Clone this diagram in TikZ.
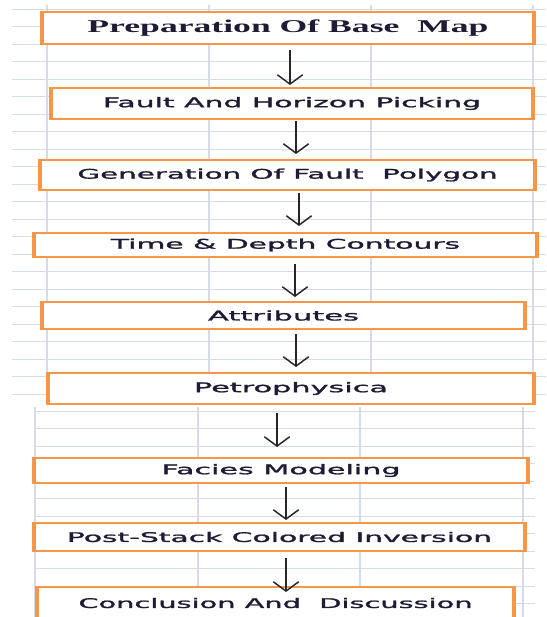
\documentclass[tikz,border=0pt]{standalone}
\usepackage{fontspec}
\usepackage{graphicx}
\usetikzlibrary{arrows.meta}
\newfontfamily\boxsans[FakeBold=1.2]{DejaVu Sans}
\newfontfamily\boxserif{Liberation Serif}
\definecolor{boxorange}{RGB}{247,150,70}
\definecolor{gridblue}{RGB}{214,219,233}
\definecolor{inkdark}{RGB}{28,28,52}
\newcommand{\px}{0.75pt}
\newcommand{\widelabel}[2]{\resizebox{#1}{\height}{#2}}

\tikzset{
  boxside/.style={draw=boxorange, line width=3pt},
  stepbox/.style={draw=boxorange, line width=1.5pt, fill=white, inner sep=0pt,
    text=inkdark, font=\boxsans\fontsize{10}{12}\selectfont,
    append after command={(\tikzlastnode.north west) edge[boxside] (\tikzlastnode.south west)
      (\tikzlastnode.north east) edge[boxside] (\tikzlastnode.south east)}},
  flowarrow/.style={-{Straight Barb[length=7pt,width=19pt]}, line width=1.1pt, black!85},
  gridline/.style={gridblue, line width=0.6pt},
  gridpost/.style={gridblue, line width=1.6pt},
}

\begin{document}
\begin{tikzpicture}[x=0.75pt, y=-0.75pt]
      \useasboundingbox (0,0) rectangle (546,617);
      \clip (0,0) rectangle (546,617);
      \fill[white] (0,0) rectangle (546,617);
      % sheet grid, upper part
      \foreach \gy in {0,...,22}
        \draw[gridline] (12,{9+17.5*\gy}) -- (546,{9+17.5*\gy});
      \foreach \gx in {47,209,371,533}
        \draw[gridpost] (\gx,5) -- (\gx,404);
      % sheet grid, lower part
      \foreach \gy in {0,...,11}
        \draw[gridline] (35,{411+17.5*\gy}) -- (535,{411+17.5*\gy});
      \foreach \gx in {35,198,360,523}
        \draw[gridpost] (\gx,407) -- (\gx,617);
      % steps
      \node[stepbox, minimum width=490*\px, minimum height=32*\px] (base) at (288,28)
        {\widelabel{300.8pt}{\boxserif\bfseries\fontsize{13.5}{15}\selectfont Preparation Of Base\ \ Map}};
      \node[stepbox, minimum width=480*\px, minimum height=31*\px] (fault) at (292,103.5)
        {\widelabel{283.5pt}{Fault And Horizon Picking}};
      \node[stepbox, minimum width=493*\px, minimum height=30*\px] (polygon) at (287.5,175)
        {\widelabel{315pt}{Generation Of Fault\ \ Polygon}};
      \node[stepbox, minimum width=501*\px, minimum height=24*\px] (contours) at (285.5,245)
        {\widelabel{261.8pt}{Time \& Depth Contours}};
      \node[stepbox, minimum width=481*\px, minimum height=27*\px] (attrib) at (283.5,315.5)
        {\widelabel{113.3pt}{Attributes}};
      \node[stepbox, minimum width=484*\px, minimum height=31*\px] (petro) at (291,388.5)
        {\widelabel{145.5pt}{Petrophysica}};
      \node[stepbox, minimum width=492*\px, minimum height=25*\px] (facies) at (281,470.5)
        {\widelabel{179.3pt}{Facies Modeling}};
      \node[stepbox, minimum width=489*\px, minimum height=28*\px] (inversion) at (279.5,537)
        {\widelabel{318.8pt}{Post-Stack Colored Inversion}};
      \node[stepbox, minimum width=475*\px, minimum height=32*\px] (conclusion) at (275.5,603)
        {\widelabel{295.5pt}{Conclusion And\ \ Discussion}};
      % arrows: from/to/x/gap at start/gap at end
      \foreach \from/\to/\ax/\ga/\gb in {base/fault/290/5/2, fault/polygon/296/1/5,
          polygon/contours/299/2/6, contours/attrib/295/6/4, attrib/petro/296/4/5,
          petro/facies/277/8/10, facies/inversion/286/3/2, inversion/conclusion/286/6/-6}
        \draw[flowarrow, shorten <=\ga*\px, shorten >=\gb*\px]
          (\from.south -| \ax,0) -- (\to.north -| \ax,0);
\end{tikzpicture}
\end{document}
